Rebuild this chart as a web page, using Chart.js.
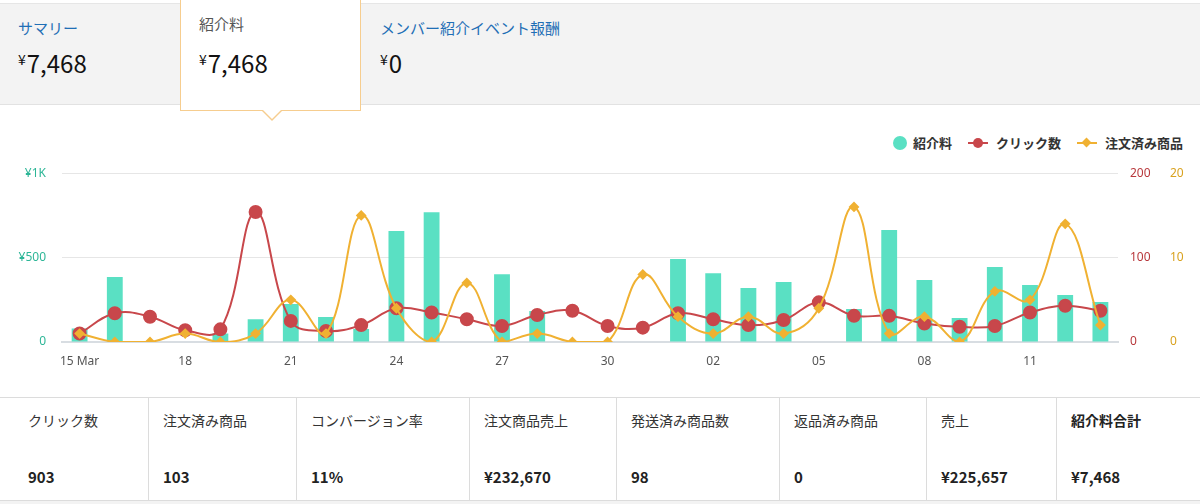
<!DOCTYPE html>
<html lang="ja">
<head>
<meta charset="utf-8">
<script src="https://cdn.jsdelivr.net/npm/chart.js@4.4.1/dist/chart.umd.min.js"></script>
<style>
    body {
        margin: 0;
        width: 1200px;
        height: 504px;
        background: #fff;
        position: relative;
        overflow: hidden;
        font-family: "Noto Sans CJK JP", "Noto Sans", sans-serif;
        color: #111;
    }
    .tabs {
        position: absolute; left: 0; top: 3px; width: 1200px; height: 102px;
        background: #f3f3f3;
        border-top: 1px solid #e6e6e6;
        border-bottom: 1px solid #e2e2e2;
        box-sizing: border-box;
    }
    .tab { position: absolute; top: 0; height: 100px; }
    .tab .name { position: absolute; left: 18px; top: 13px; font-size: 15px; color: #1f6fb6; white-space: nowrap; }
    .tab .val { position: absolute; left: 18px; top: 41px; font-size: 24px; color: #111; white-space: nowrap; }
    .tab .val .yen { font-size: 14px; vertical-align: 8px; margin-right: 1px; }
    .tab.sel {
        top: -4px; height: 111px; background: #fff;
        border: 1px solid #f6cd8f; border-top: none; box-sizing: border-box;
    }
    .tab.sel .name { color: #555; top: 13px; }
    .tab.sel .val { top: 45px; }
    .notch-o {
        position: absolute; left: 80px; bottom: -11px; width: 0; height: 0;
        border-left: 11px solid transparent; border-right: 11px solid transparent;
        border-top: 11px solid #f6cd8f;
    }
    .notch-i {
        position: absolute; left: 81px; bottom: -9px; width: 0; height: 0;
        border-left: 10px solid transparent; border-right: 10px solid transparent;
        border-top: 10px solid #fff;
    }
    .legend {
        position: absolute; top: 133px; right: 17px; display: flex; align-items: center;
        font-size: 13px; font-weight: bold; color: #333;
    }
    .legend .item { display: flex; align-items: center; margin-left: 16px; }
    .legend .dot { width: 14px; height: 14px; border-radius: 50%; background: #5ae0c3; margin-right: 6px; }
    .legend .ln { position: relative; width: 20px; height: 2px; margin-right: 8px; }
    .legend .ln span { position: absolute; left: 5px; top: -4px; width: 10px; height: 10px; border-radius: 50%; }
    .legend .ln span.dia { left: 6px; top: -3px; width: 7px; height: 7px; border-radius: 0; transform: rotate(45deg); }
    #chartBox { position: absolute; left: 0; top: 150px; width: 1200px; height: 222px; }
    .stats {
        position: absolute; left: 0; top: 397px; width: 1200px; height: 104px;
        border-top: 1px solid #dcdcdc; border-bottom: 1px solid #dcdcdc;
        box-sizing: border-box; display: flex;
    }
    .stats .cell { position: relative; height: 100%; border-left: 1px solid #dcdcdc; box-sizing: border-box; }
    .stats .cell:first-child { border-left: none; }
    .stats .lbl { position: absolute; left: 14px; top: 12px; font-size: 14px; color: #333; white-space: nowrap; }
    .stats .num { position: absolute; left: 14px; top: 68px; font-size: 15px; font-weight: bold; color: #222; white-space: nowrap; }
    .stats .cell:first-child .lbl, .stats .cell:first-child .num { left: 28px; }
    .stats .cell.total .lbl { font-weight: bold; color: #222; }
    .bottom-gray { position: absolute; left: 0; top: 501px; width: 1200px; height: 3px; background: #f3f3f3; }
</style>
</head>
<body>

<div class="tabs">
    <div class="tab" style="left:0; width:180px;">
        <div class="name">サマリー</div>
        <div class="val"><span class="yen">¥</span>7,468</div>
    </div>
    <div class="tab sel" style="left:180px; width:181px;">
        <div class="name">紹介料</div>
        <div class="val"><span class="yen">¥</span>7,468</div>
        <div class="notch-o"></div>
        <div class="notch-i"></div>
    </div>
    <div class="tab" style="left:362px; width:300px;">
        <div class="name">メンバー紹介イベント報酬</div>
        <div class="val"><span class="yen">¥</span>0</div>
    </div>
</div>

<div class="legend">
    <div class="item"><div class="dot"></div>紹介料</div>
    <div class="item"><div class="ln" style="background:#c8474b;"><span style="background:#c8474b;"></span></div>クリック数</div>
    <div class="item"><div class="ln" style="background:#f0b132;"><span class="dia" style="background:#f0b132;"></span></div>注文済み商品</div>
</div>

<div id="chartBox"><canvas id="earningsChart"></canvas></div>

<div class="stats" id="stats"></div>
<div class="bottom-gray"></div>

<script>
// Days shown on the x axis (15 Mar - 13 Apr)
const days = ['15 Mar', '16', '17', '18', '19', '20', '21', '22', '23', '24', '25', '26', '27', '28', '29', '30', '31',
    '01', '02', '03', '04', '05', '06', '07', '08', '09', '10', '11', '12', '13'];

// 紹介料 (yen per day)
const fees = [80, 385, 0, 0, 50, 135, 225, 148, 77, 657, 769, 0, 402, 183, 0, 0, 0,
    491, 408, 320, 355, 0, 195, 663, 367, 142, 444, 337, 278, 237];

// クリック数
const clicks = [10, 34, 30, 14, 15, 154, 25, 13, 20, 40, 35, 27, 19, 32, 37, 19, 17,
    34, 27, 20, 26, 47, 31, 31, 22, 18, 19, 35, 43, 37];

// 注文済み商品
const orders = [1, 0, 0, 1, 0, 1, 5, 1, 15, 4, 0, 7, 0, 1, 0, 0, 8,
    3, 1, 3, 1, 4, 16, 1, 3, 0, 6, 5, 14, 2];

const feeTicks = ['0', '¥500', '¥1K'];

// Summary row under the chart
const statLabels = ['クリック数', '注文済み商品', 'コンバージョン率', '注文商品売上', '発送済み商品数', '返品済み商品', '売上', '紹介料合計'];
const statValues = ['903', '103', '11%', '¥232,670', '98', '0', '¥225,657', '¥7,468'];
const statWidths = [148, 148, 173, 147, 163, 147, 130, 144];

document.addEventListener('DOMContentLoaded', function() {
    buildStats();
    drawChart();
});

function buildStats() {
    const box = document.getElementById('stats');
    statLabels.forEach((label, i) => {
        const cell = document.createElement('div');
        cell.className = 'cell' + (i === statLabels.length - 1 ? ' total' : '');
        cell.style.width = statWidths[i] + 'px';
        cell.innerHTML = '<div class="lbl">' + label + '</div><div class="num">' + statValues[i] + '</div>';
        box.appendChild(cell);
    });
}

function drawChart() {
    const ctx = document.getElementById('earningsChart');
    const tickFont = { family: '"Noto Sans", "Noto Sans CJK JP", sans-serif', size: 12 };

    new Chart(ctx, {
        type: 'bar',
        data: {
            labels: days,
            datasets: [
                {
                    type: 'line',
                    label: '注文済み商品',
                    data: orders,
                    yAxisID: 'yOrders',
                    borderColor: '#f0b132',
                    backgroundColor: '#f0b132',
                    borderWidth: 2,
                    pointStyle: 'rectRot',
                    pointRadius: 4,
                    tension: 0.4,
                    order: 1
                },
                {
                    type: 'line',
                    label: 'クリック数',
                    data: clicks,
                    yAxisID: 'yClicks',
                    borderColor: '#c8474b',
                    backgroundColor: '#c8474b',
                    borderWidth: 2,
                    pointRadius: 6,
                    tension: 0.4,
                    order: 2
                },
                {
                    label: '紹介料',
                    data: fees,
                    yAxisID: 'yFee',
                    backgroundColor: '#5ae0c3',
                    categoryPercentage: 0.5,
                    barPercentage: 0.9,
                    order: 3
                }
            ]
        },
        options: {
            responsive: true,
            maintainAspectRatio: false,
            animation: false,
            layout: { padding: { top: 3, left: 0, right: 0, bottom: 0 } },
            plugins: {
                legend: { display: false },
                tooltip: { enabled: false }
            },
            scales: {
                x: {
                    offset: true,
                    grid: { display: false },
                    border: { color: '#d8dde2', width: 2 },
                    ticks: {
                        autoSkip: false,
                        maxRotation: 0,
                        color: '#555',
                        font: tickFont,
                        padding: 4,
                        callback: (value, index) => index % 3 === 0 ? days[index] : ''
                    },
                    afterFit: scale => { scale.height = 30; }
                },
                yFee: {
                    position: 'left',
                    min: 0,
                    max: 1000,
                    grid: { color: '#e6e6e6', drawTicks: false },
                    border: { display: false },
                    ticks: {
                        stepSize: 500,
                        color: '#2db697',
                        font: tickFont,
                        padding: 16,
                        callback: value => feeTicks[value / 500]
                    },
                    afterFit: scale => { scale.width = 62; }
                },
                yClicks: {
                    position: 'right',
                    min: 0,
                    max: 200,
                    grid: { display: false, drawTicks: false },
                    border: { display: false },
                    ticks: { stepSize: 100, color: '#b8383c', font: tickFont, padding: 12 },
                    afterFit: scale => { scale.width = 40; }
                },
                yOrders: {
                    position: 'right',
                    min: 0,
                    max: 20,
                    grid: { display: false, drawTicks: false },
                    border: { display: false },
                    ticks: { stepSize: 10, color: '#d9a21f', font: tickFont, padding: 12 },
                    afterFit: scale => { scale.width = 42; }
                }
            }
        }
    });
}
</script>
</body>
</html>
